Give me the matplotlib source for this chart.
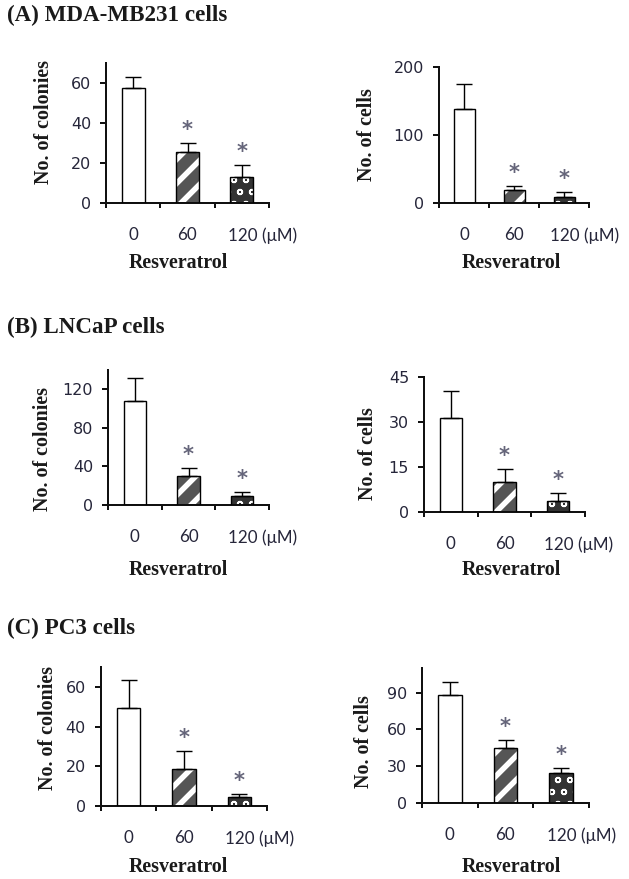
import matplotlib
matplotlib.use("Agg")
import matplotlib.pyplot as plt
from matplotlib.transforms import ScaledTranslation

W, H = 629, 879
DPI = 72

# ---------------- data ----------------
doses = ["0", "60", "120"]
unit_label = "(μM)"
xlabel_text = "Resveratrol"

a_colonies = [57.5, 25.5, 13.0]
a_colonies_err = [5.5, 4.5, 6.0]
a_cells = [138, 19, 9]
a_cells_err = [37, 6, 7]

b_colonies = [108, 30, 9.5]
b_colonies_err = [24, 8, 4]
b_cells = [31.3, 10.1, 3.7]
b_cells_err = [9.1, 4.4, 2.7]

c_colonies = [49.4, 18.5, 4.4]
c_colonies_err = [14.2, 9.1, 1.5]
c_cells = [87.6, 44.6, 24.3]
c_cells_err = [11.4, 6.4, 4.1]

titles = ["(A) MDA-MB231 cells", "(B) LNCaP cells", "(C) PC3 cells"]
ylab_col = "No. of colonies"
ylab_cell = "No. of cells"

yticks_list = [
    [0, 20, 40, 60], [0, 100, 200],
    [0, 40, 80, 120], [0, 15, 30, 45],
    [0, 20, 40, 60], [0, 30, 60, 90],
]
ymax_list = [70, 200, 140, 45, 70, 110]
# -------------------------------------

SERIF = "Liberation Serif"
TXT = "#1a1a1a"
TICKC = "#26263a"

fig = plt.figure(figsize=(W / DPI, H / DPI), dpi=DPI)
fig.patch.set_facecolor("white")


def fx(x):
    return x / W


def fy(y):
    return 1 - y / H


def add_ax(x0, x1, yt, yb):
    return fig.add_axes([fx(x0), fy(yb), (x1 - x0) / W, (yb - yt) / H])


boxes = [
    (106, 269, 63, 203), (439, 589, 67, 203),
    (108, 269, 370, 505), (424, 585, 377, 512),
    (101, 267, 667, 806), (422, 589, 668, 803),
]
series = [
    (a_colonies, a_colonies_err), (a_cells, a_cells_err),
    (b_colonies, b_colonies_err), (b_cells, b_cells_err),
    (c_colonies, c_colonies_err), (c_cells, c_cells_err),
]
ylabels = [ylab_col, ylab_cell] * 3
ylabel_pos = [(44, 122), (367, 135), (43, 449), (368, 454), (48, 728), (364, 742)]
xlabel_pos = [(178, 263), (511, 263), (178, 570), (511, 570), (178, 867), (511, 867)]
title_pos = [(7, 15), (7, 327), (7, 628)]

styles = [
    dict(face="white", hatch=None, hcol="white"),
    dict(face="#555555", hatch="/", hcol="white"),
    dict(face="#333333", hatch="o", hcol="white"),
]

bw = 0.42
xs = [0, 1, 2]

for i, (box, (vals, errs)) in enumerate(zip(boxes, series)):
    ax = add_ax(*box)
    ax.set_xlim(-0.5, 2.5)
    ax.set_ylim(0, ymax_list[i])
    for x, v, st in zip(xs, vals, styles):
        if st["hatch"]:
            with plt.rc_context({"hatch.linewidth": 5.5 if st["hatch"] == "/" else 1.6}):
                ax.bar(x, v, width=bw, color=st["face"], edgecolor=st["hcol"],
                       hatch=st["hatch"], linewidth=0, zorder=2)
        else:
            ax.bar(x, v, width=bw, color=st["face"], linewidth=0, zorder=2)
        ax.bar(x, v, width=bw, facecolor="none", edgecolor="black",
               linewidth=1.4, zorder=3)
    ax.errorbar(xs, vals, yerr=[[0, 0, 0], errs], fmt="none", ecolor="black",
                elinewidth=1.4, capsize=8, capthick=1.4, zorder=4)
    for x, v, e in zip(xs[1:], vals[1:], errs[1:]):
        ax.annotate("*", xy=(x, v + e), xytext=(0, 7), textcoords="offset points",
                    ha="center", va="baseline", fontsize=21, color="#65657a",
                    family="DejaVu Sans", weight="bold", zorder=5)
    for s in ["top", "right"]:
        ax.spines[s].set_visible(False)
    for s in ["left", "bottom"]:
        ax.spines[s].set_linewidth(2)
        ax.spines[s].set_color("#111111")
    ax.set_yticks(yticks_list[i])
    ax.tick_params(axis="y", length=6, width=2, pad=9, labelsize=16,
                   labelcolor=TICKC, color="#111111")
    ax.set_xticks([-0.5, 0.5, 1.5, 2.5], minor=True)
    ax.tick_params(axis="x", which="minor", length=5, width=2, color="#111111")
    ax.set_xticks(xs)
    labs = ax.set_xticklabels([doses[0], doses[1], doses[2] + " " + unit_label],
                              fontsize=17, family="Lato", color=TICKC)
    ax.tick_params(axis="x", which="major", length=0, pad=24)
    labs[2].set_horizontalalignment("left")
    labs[2].set_transform(labs[2].get_transform() + ScaledTranslation(-14 / DPI, 0, fig.dpi_scale_trans))
    for t in ax.get_yticklabels():
        t.set_family("DejaVu Sans")
    ax.set_facecolor("none")

    yx, yy = ylabel_pos[i]
    fig.text(fx(yx), fy(yy), ylabels[i], rotation=90, ha="center", va="center",
             fontsize=20, family=SERIF, weight="bold", color=TXT)
    lx, ly = xlabel_pos[i]
    fig.text(fx(lx), fy(ly), xlabel_text, ha="center", va="center",
             fontsize=20, family=SERIF, weight="bold", color=TXT)

for t, (tx, ty) in zip(titles, title_pos):
    fig.text(fx(tx), fy(ty), t, ha="left", va="center", fontsize=23,
             family=SERIF, weight="bold", color=TXT)

fig.savefig("out.png", dpi=DPI, facecolor="white")
